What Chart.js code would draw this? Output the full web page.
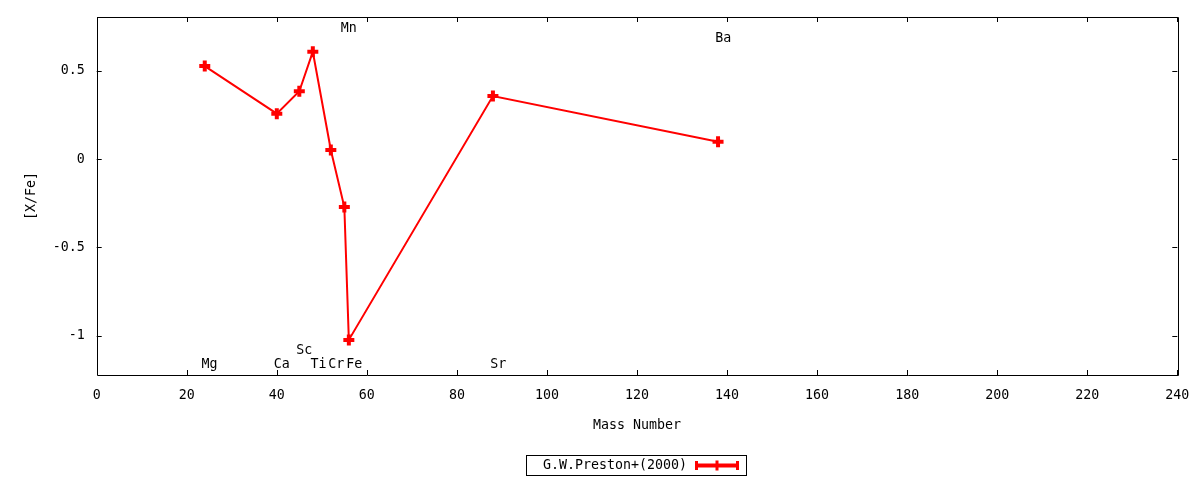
<!DOCTYPE html>
<html>
<head>
<meta charset="utf-8">
<script src="https://cdn.jsdelivr.net/npm/chart.js@4.4.1/dist/chart.umd.min.js"></script>
<style>
  html, body { margin: 0; padding: 0; background: #ffffff; }
  #wrap { width: 1200px; height: 480px; }
</style>
</head>
<body>
<div id="wrap"><canvas id="c" width="1200" height="480"></canvas></div>
<script>
// ---- data ----
const seriesLabel = 'G.W.Preston+(2000)';
const massNumbers = [24, 40, 45, 48, 52, 55, 56, 88, 138];
const xfeValues   = [0.528, 0.258, 0.385, 0.609, 0.052, -0.271, -1.024, 0.358, 0.099];
const elementNames = ['Mg', 'Ca', 'Sc', 'Ti', 'Cr', 'Fe', 'Sr', 'Mn', 'Ba'];
const elementLabelX = [23.3, 39.3, 44.3, 47.5, 51.4, 55.4, 87.4, 54.2, 137.4];
const elementLabelY = [-1.155, -1.155, -1.075, -1.155, -1.155, -1.155, -1.155, 0.749, 0.69];
const xTickValues = [0, 20, 40, 60, 80, 100, 120, 140, 160, 180, 200, 220, 240];
const yTickValues = [0.5, 0, -0.5, -1];
const xTitle = 'Mass Number';
const yTitle = '[X/Fe]';

const FONT_FAMILY = "'DejaVu Sans Mono', 'Liberation Mono', monospace";
const FONT_SIZE = 13.3;
const RED = '#ff0000';

const framePlugin = {
  id: 'frame',
  afterDatasetsDraw(chart) {
    const ctx = chart.ctx;
    const a = chart.chartArea;
    const xs = chart.scales.x, ys = chart.scales.y;
    ctx.save();
    ctx.strokeStyle = '#000';
    ctx.lineWidth = 1;
    ctx.beginPath();
    ctx.rect(Math.round(a.left) + 0.5, Math.round(a.top) + 0.5,
             Math.round(a.right - a.left), Math.round(a.bottom - a.top));
    ctx.stroke();
    const tl = 5;
    ctx.beginPath();
    xs.ticks.forEach(t => {
      const px = Math.round(xs.getPixelForValue(t.value)) + 0.5;
      ctx.moveTo(px, a.bottom); ctx.lineTo(px, a.bottom - tl);
      ctx.moveTo(px, a.top); ctx.lineTo(px, a.top + tl);
    });
    ys.ticks.forEach(t => {
      const py = Math.round(ys.getPixelForValue(t.value)) + 0.5;
      ctx.moveTo(a.left, py); ctx.lineTo(a.left + tl, py);
      ctx.moveTo(a.right, py); ctx.lineTo(a.right - tl, py);
    });
    ctx.stroke();
    ctx.fillStyle = '#000';
    ctx.font = FONT_SIZE + 'px ' + FONT_FAMILY;
    ctx.textAlign = 'left';
    ctx.textBaseline = 'middle';
    elementNames.forEach((n, i) => {
      ctx.fillText(n, xs.getPixelForValue(elementLabelX[i]), ys.getPixelForValue(elementLabelY[i]) + 1.5);
    });
    ctx.restore();
  },
  afterDraw(chart) {
    const ctx = chart.ctx;
    const ds = chart.data.datasets[0];
    ctx.save();
    ctx.font = FONT_SIZE + 'px ' + FONT_FAMILY;
    const boxW = 220, boxH = 20;
    const cx = (chart.chartArea.left + chart.chartArea.right) / 2;
    const bx = Math.round(cx - boxW / 2) - 0.5;
    const by = 455.5;
    ctx.strokeStyle = '#000';
    ctx.lineWidth = 1;
    ctx.strokeRect(bx, by, boxW, boxH);
    ctx.fillStyle = '#000';
    ctx.textAlign = 'left';
    ctx.textBaseline = 'middle';
    const tx = bx + 16.5;
    const cy = by + boxH / 2;
    ctx.fillText(ds.label, tx, cy + 0.5);
    const lx1 = bx + 168.5, lx2 = bx + 212.5;
    ctx.strokeStyle = ds.borderColor;
    ctx.lineWidth = 4;
    ctx.beginPath();
    ctx.moveTo(lx1, cy); ctx.lineTo(lx2, cy);
    ctx.stroke();
    ctx.lineWidth = 3;
    ctx.beginPath();
    ctx.moveTo(lx1 + 1.5, cy - 4.5); ctx.lineTo(lx1 + 1.5, cy + 4.5);
    ctx.moveTo(lx2 - 1.5, cy - 4.5); ctx.lineTo(lx2 - 1.5, cy + 4.5);
    const mx = (lx1 + lx2) / 2;
    ctx.moveTo(mx, cy - 5); ctx.lineTo(mx, cy + 5);
    ctx.stroke();
    ctx.restore();
  }
};

new Chart(document.getElementById('c'), {
  type: 'line',
  data: {
    datasets: [{
      label: seriesLabel,
      data: massNumbers.map((m, i) => ({ x: m, y: xfeValues[i] })),
      borderColor: RED,
      backgroundColor: RED,
      borderWidth: 2,
      tension: 0,
      fill: false,
      pointStyle: 'cross',
      pointRadius: 5.5,
      pointBorderWidth: 4,
      pointBorderColor: RED,
      pointHoverRadius: 5.5
    }]
  },
  options: {
    responsive: false,
    animation: false,
    devicePixelRatio: 1,
    layout: { padding: { left: 0, right: 22.7, top: 17, bottom: 40 } },
    plugins: {
      legend: { display: false },
      tooltip: { enabled: false }
    },
    scales: {
      x: {
        type: 'linear',
        min: 0, max: 240,
        grid: { display: false, drawTicks: false },
        border: { display: false },
        afterBuildTicks: s => { s.ticks = xTickValues.map(v => ({ value: v })); },
        afterFit: s => { s.height = 65; s.paddingLeft = 0; s.paddingRight = 0; },
        ticks: {
          color: '#000',
          font: { family: FONT_FAMILY, size: FONT_SIZE },
          padding: 13,
          maxRotation: 0,
          callback: v => String(v)
        },
        title: {
          display: true, text: xTitle, color: '#000',
          font: { family: FONT_FAMILY, size: FONT_SIZE },
          padding: { top: 0, bottom: 6 }
        }
      },
      y: {
        type: 'linear',
        min: -1.223, max: 0.806,
        grid: { display: false, drawTicks: false },
        border: { display: false },
        afterBuildTicks: s => { s.ticks = yTickValues.map(v => ({ value: v })); },
        afterFit: s => { s.width = 96.7; s.paddingTop = 0; s.paddingBottom = 0; },
        ticks: {
          color: '#000',
          font: { family: FONT_FAMILY, size: FONT_SIZE },
          padding: 12,
          callback: v => String(v)
        },
        title: {
          display: true, text: yTitle, color: '#000',
          font: { family: FONT_FAMILY, size: FONT_SIZE },
          padding: { top: 24, bottom: 0 }
        }
      }
    }
  },
  plugins: [framePlugin]
});
</script>
</body>
</html>
